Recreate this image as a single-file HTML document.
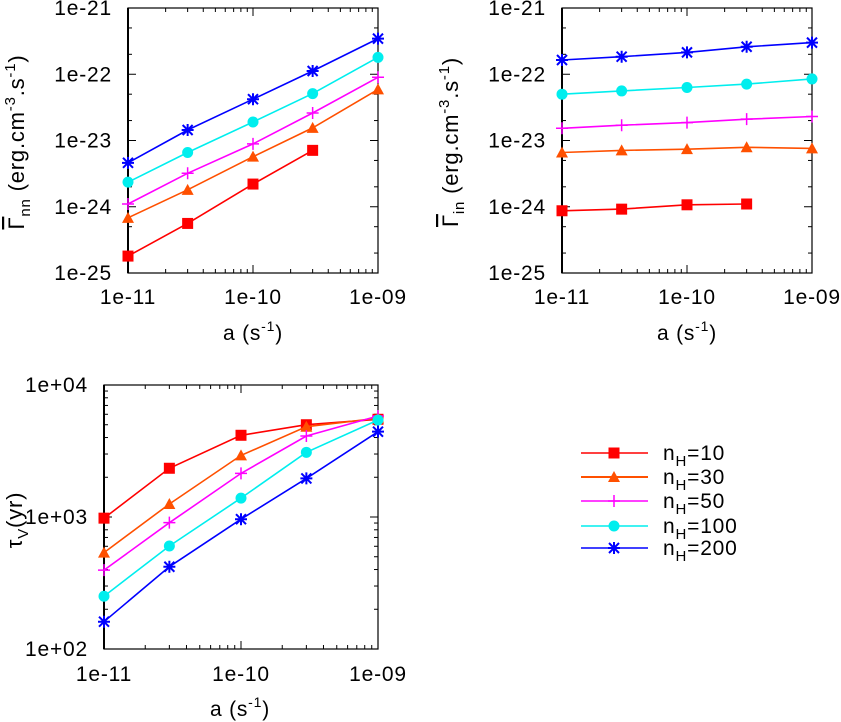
<!DOCTYPE html>
<html><head><meta charset="utf-8"><style>
html,body{margin:0;padding:0;background:#fff;}
svg{display:block;font-family:"Liberation Sans",sans-serif;}
text{fill:#000;}
</style></head><body>
<svg id="fig" width="841" height="722" viewBox="0 0 841 722" xmlns="http://www.w3.org/2000/svg"></svg>
<script>
const xValues = [1e-11, 3e-11, 1e-10, 3e-10, 1e-9];
const seriesNames = ["n_H=10", "n_H=30", "n_H=50", "n_H=100", "n_H=200"];
const legendLabels = ["10", "30", "50", "100", "200"];
const xTickLabels = ["1e-11", "1e-10", "1e-09"];
const y12TickLabels = ["1e-25", "1e-24", "1e-23", "1e-22", "1e-21"];
const y3TickLabels = ["1e+02", "1e+03", "1e+04"];
// Panel 1: Gamma_nn
const gnn10 = [1.8e-25, 5.6e-25, 2.2e-24, 7.1e-24];
const gnn30 = [6.8e-25, 1.8e-24, 5.7e-24, 1.55e-23, 5.9e-23];
const gnn50 = [1.1e-24, 3.2e-24, 8.9e-24, 2.6e-23, 9.0e-23];
const gnn100 = [2.35e-24, 6.6e-24, 1.9e-23, 5.1e-23, 1.8e-22];
const gnn200 = [4.6e-24, 1.44e-23, 4.2e-23, 1.12e-22, 3.45e-22];
// Panel 2: Gamma_in
const gin10 = [8.7e-25, 9.2e-25, 1.07e-24, 1.1e-24];
const gin30 = [6.6e-24, 7.1e-24, 7.4e-24, 7.9e-24, 7.6e-24];
const gin50 = [1.53e-23, 1.7e-23, 1.86e-23, 2.1e-23, 2.3e-23];
const gin100 = [5.0e-23, 5.6e-23, 6.3e-23, 7.1e-23, 8.5e-23];
const gin200 = [1.64e-22, 1.84e-22, 2.14e-22, 2.6e-22, 3.0e-22];
// Panel 3: tau_V
const tau10 = [980, 2340, 4160, 5000, 5500];
const tau30 = [537, 1254, 2930, 4830, 5600];
const tau50 = [396, 906, 2140, 4110, 5820];
const tau100 = [251, 603, 1390, 3090, 5430];
const tau200 = [161, 420, 962, 1960, 4430];

const colors = ["#ff0000", "#ff5000", "#ff00ff", "#00eeee", "#0000ff"];
const markers = ["square", "triangle", "plus", "circle", "star"];
const NS = "http://www.w3.org/2000/svg";
const svg = document.getElementById("fig");
function mk(tag, attrs, parent) {
  const e = document.createElementNS(NS, tag);
  for (const k in attrs) e.setAttribute(k, attrs[k]);
  (parent || svg).appendChild(e);
  return e;
}
function logScale(d0, d1, r0, r1) {
  const a = Math.log10(d0), b = Math.log10(d1);
  return v => r0 + (Math.log10(v) - a) / (b - a) * (r1 - r0);
}
function marker(g, type, x, y, c) {
  let e;
  if (type === "square") e = mk("rect", {x: x-5.5, y: y-5.5, width: 11, height: 11, fill: c}, g);
  else if (type === "triangle") e = mk("polygon", {points: `${x},${y-6} ${x+6},${y+5} ${x-6},${y+5}`, fill: c}, g);
  else if (type === "plus") e = mk("path", {d: `M${x-6},${y}H${x+6}M${x},${y-6}V${y+6}`, stroke: c, "stroke-width": 1.5}, g);
  else if (type === "circle") e = mk("circle", {cx: x, cy: y, r: 5.5, fill: c}, g);
  else e = mk("path", {d: `M${x-6},${y}H${x+6}M${x},${y-6}V${y+6}M${x-5},${y-5}L${x+5},${y+5}M${x-5},${y+5}L${x+5},${y-5}`, stroke: c, "stroke-width": 2}, g);
  
  
}
function panel(name, box, ydom, yLabels, yMinors, series, ytitle, xtitleCx, xtitleY, xlabelY) {
  const g = mk("g", {});
  
  
  const sx = logScale(1e-11, 1e-9, box.l, box.r);
  const sy = logScale(ydom[0], ydom[1], box.b, box.t);
  for (let d = -11; d < -9; d++) for (let m = 1; m <= 9; m++) {
    const v = m * Math.pow(10, d), x = sx(v), len = m === 1 ? 8 : 4;
    mk("line", {x1: x, y1: box.b, x2: x, y2: box.b - len, stroke: "#000", "stroke-width": 1}, g);
    mk("line", {x1: x, y1: box.t, x2: x, y2: box.t + len, stroke: "#000", "stroke-width": 1}, g);
  }
  const d0 = Math.round(Math.log10(ydom[0])), d1 = Math.round(Math.log10(ydom[1]));
  for (let d = d0; d <= d1; d++) {
    const mlist = d === d1 ? [1] : [1].concat(yMinors);
    for (const m of mlist) {
      const y = sy(m * Math.pow(10, d)), len = m === 1 ? 8 : 4;
      mk("line", {x1: box.l, y1: y, x2: box.l + len, y2: y, stroke: "#000", "stroke-width": 1}, g);
      mk("line", {x1: box.r, y1: y, x2: box.r - len, y2: y, stroke: "#000", "stroke-width": 1}, g);
    }
  }
  xTickLabels.forEach((t, i) => {
    const e = mk("text", {x: sx(1e-11 * Math.pow(10, i)), y: xlabelY, "text-anchor": "middle", "font-size": 21, "letter-spacing": 0.8}, g);
    e.textContent = t;
    
    
  });
  yLabels.forEach((t, i) => {
    const e = mk("text", {x: box.l - 16, y: sy(Math.pow(10, d0 + i)) + 7, "text-anchor": "end", "font-size": 21, "letter-spacing": 0.8}, g);
    e.textContent = t;
    
    
  });
  mk("rect", {x: box.l, y: box.t, width: box.r - box.l, height: box.b - box.t, fill: "none", stroke: "#000", "stroke-width": 1.2}, g);
  mk("line", {x1: box.l, y1: box.t, x2: box.l, y2: box.b, stroke: "#000", "stroke-width": 2}, g);
  series.forEach((s, k) => {
    const pts = s.map((v, i) => sx(xValues[i]).toFixed(1) + "," + sy(v).toFixed(1)).join(" ");
    const pl = mk("polyline", {points: pts, fill: "none", stroke: colors[k], "stroke-width": 1.6}, g);
    
    
    s.forEach((v, i) => marker(g, markers[k], sx(xValues[i]), sy(v), colors[k]));
  });
  const xt = mk("text", {x: xtitleCx, y: xtitleY, "text-anchor": "middle", "font-size": 21, "letter-spacing": 0.8}, g);
  xt.innerHTML = 'a (s<tspan dy="-9" font-size="14">-1</tspan><tspan dy="9">)</tspan>';
  
  
  const yt = mk("text", {transform: `translate(${ytitle.x},${ytitle.y}) rotate(-90)`, "text-anchor": "middle", "font-size": 22, "letter-spacing": 0.8}, g);
  yt.innerHTML = ytitle.html;
  
  
}
panel("panel-gamma-nn", {l: 128, r: 378, t: 8, b: 273}, [1e-25, 1e-21], y12TickLabels, [2, 5],
  [gnn10, gnn30, gnn50, gnn100, gnn200],
  {x: 24, y: 142, html: '<tspan text-decoration="overline">Γ</tspan><tspan dy="6" font-size="15">nn</tspan><tspan dy="-6"> (erg.cm</tspan><tspan dy="-9" font-size="15">-3</tspan><tspan dy="9">.s</tspan><tspan dy="-9" font-size="15">-1</tspan><tspan dy="9">)</tspan>'},
  253, 340, 304);
panel("panel-gamma-in", {l: 562, r: 812, t: 8, b: 273}, [1e-25, 1e-21], y12TickLabels, [2, 5],
  [gin10, gin30, gin50, gin100, gin200],
  {x: 458, y: 142, html: '<tspan text-decoration="overline">Γ</tspan><tspan dy="6" font-size="15">in</tspan><tspan dy="-6"> (erg.cm</tspan><tspan dy="-9" font-size="15">-3</tspan><tspan dy="9">.s</tspan><tspan dy="-9" font-size="15">-1</tspan><tspan dy="9">)</tspan>'},
  687, 340, 304);
panel("panel-tau-v", {l: 104, r: 378, t: 385, b: 649}, [1e2, 1e4], y3TickLabels, [2, 3, 4, 5, 6, 7, 8, 9],
  [tau10, tau30, tau50, tau100, tau200],
  {x: 22, y: 520, html: 'τ<tspan dy="6" font-size="15">V</tspan><tspan dy="-6">(yr)</tspan>'},
  240, 716, 681);
const lg = mk("g", {});


const legendRows = [453, 477, 501, 526, 548];
legendLabels.forEach((t, k) => {
  const y = legendRows[k];
  const row = mk("g", {}, lg);
  
  
  mk("line", {x1: 581, y1: y, x2: 648, y2: y, stroke: colors[k], "stroke-width": k === 1 ? 2 : 1.4}, row);
  marker(row, markers[k], 614, y, colors[k]);
  const e = mk("text", {x: 663, y: y + 7, "font-size": 21, "letter-spacing": 0.8}, row);
  e.innerHTML = 'n<tspan dy="6" font-size="15">H</tspan><tspan dy="-6">=' + t + '</tspan>';
});
</script>
</body></html>
